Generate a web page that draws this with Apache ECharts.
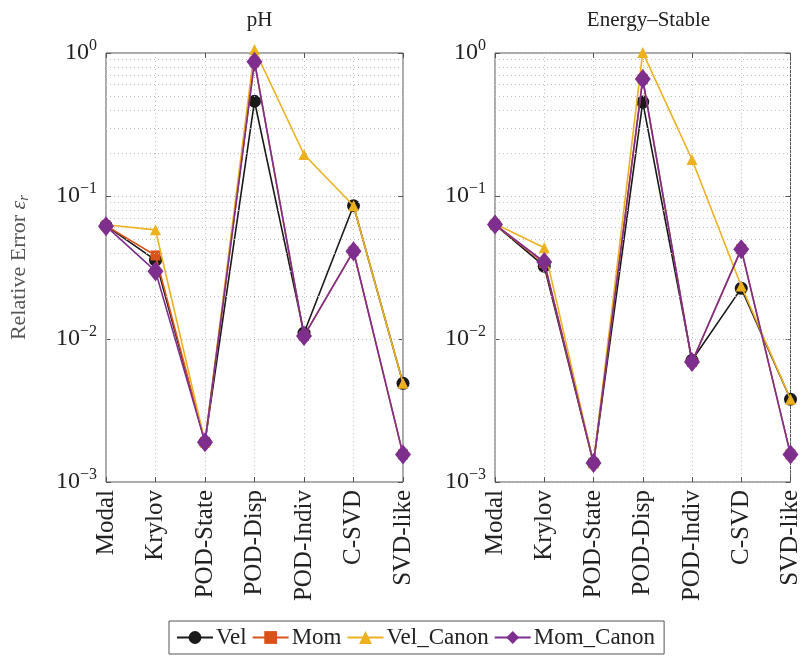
<!DOCTYPE html>
<html>
<head>
<meta charset="utf-8">
<script src="https://cdn.jsdelivr.net/npm/echarts@6/dist/echarts.min.js"></script>
<style>
html,body{margin:0;padding:0;background:#fff;}
#chart{width:803px;height:664px;}
</style>
</head>
<body>
<div id="chart"></div>
<script>
// ---- data ----
const categories = ['Modal', 'Krylov', 'POD-State', 'POD-Disp', 'POD-Indiv', 'C-SVD', 'SVD-like'];
const seriesNames = ['Vel', 'Mom', 'Vel_Canon', 'Mom_Canon'];
const panelTitles = ['pH', 'Energy\u2013Stable'];

// pH panel
const phVel       = [0.062, 0.0356, 0.0019, 0.46, 0.011, 0.0855, 0.0049];
const phMom       = [0.062, 0.0384, 0.0019, 0.87, 0.0105, 0.0411, 0.00156];
const phVelCanon  = [0.063, 0.058, 0.0019, 1.06, 0.195, 0.0855, 0.0049];
const phMomCanon  = [0.0615, 0.0298, 0.0019, 0.87, 0.0105, 0.0411, 0.00156];

// Energy-Stable panel
const esVel       = [0.063, 0.0323, 0.00136, 0.454, 0.0071, 0.0226, 0.00379];
const esMom       = [0.063, 0.034, 0.00136, 0.658, 0.0069, 0.0425, 0.00156];
const esVelCanon  = [0.064, 0.0434, 0.00136, 1.01, 0.18, 0.0235, 0.00379];
const esMomCanon  = [0.0633, 0.0346, 0.00136, 0.658, 0.0069, 0.0425, 0.00156];

// axis ticks
const yMin = 0.001, yMax = 1;
const minorGridValues = [];
[0.001, 0.01, 0.1].forEach(d => { for (let k = 2; k <= 9; k++) minorGridValues.push(+(d * k).toPrecision(3)); });

// ---- styles ----
const FONT = '"Liberation Serif", "DejaVu Serif", serif';
const colors = ['#1a1a1a', '#d95319', '#edb120', '#7e2f8e'];
const symbols = ['circle', 'rect', 'triangle', 'diamond'];
const symbolSizes = [13, 10, 11, [16, 20]];
const panelData = [
  [phVel, phMom, phVelCanon, phMomCanon],
  [esVel, esMom, esVelCanon, esMomCanon]
];
const grids = [
  {left: 106, top: 53, width: 297, height: 429},
  {left: 495, top: 53, width: 297, height: 429}
];

const gridLineStyle = {type: [1, 3], color: '#bdbdbd', width: 1};

const xAxes = [], yAxes = [], series = [], titles = [];
grids.forEach((g, gi) => {
  titles.push({
    text: panelTitles[gi],
    left: g.left + g.width / 2, top: 5, textAlign: 'center',
    textStyle: {fontFamily: FONT, fontSize: 21, fontWeight: 'normal', color: '#222'}
  });
  xAxes.push({
    type: 'category', gridIndex: gi, data: categories, boundaryGap: false, position: 'bottom',
    axisLine: {show: false},
    axisTick: {show: true, inside: true, length: 5, lineStyle: {color: '#555'}, alignWithLabel: true},
    axisLabel: {rotate: 90, margin: 8, fontFamily: FONT, fontSize: 25, color: '#222', interval: 0},
    splitLine: {show: true, interval: 0, lineStyle: gridLineStyle}
  });
  xAxes.push({
    type: 'category', gridIndex: gi, data: categories, boundaryGap: false, position: 'top',
    axisLine: {show: false},
    axisTick: {show: true, inside: true, length: 5, lineStyle: {color: '#555'}},
    axisLabel: {show: false}, splitLine: {show: false}
  });
  yAxes.push({
    type: 'log', logBase: 10, gridIndex: gi, min: yMin, max: yMax, position: 'left',
    axisLine: {show: false},
    axisTick: {show: true, inside: true, length: 5, lineStyle: {color: '#555'}},
    splitLine: {show: true, lineStyle: gridLineStyle},
    axisLabel: {
      margin: 9,
      formatter: v => {
        const e = Math.round(Math.log10(v));
        return '{b|10}{s|' + (e < 0 ? '\u2212' + (-e) : e) + '}';
      },
      rich: {
        b: {fontFamily: FONT, fontSize: 24, color: '#222', lineHeight: 30, verticalAlign: 'middle'},
        s: {fontFamily: FONT, fontSize: 16, color: '#222', lineHeight: 16, verticalAlign: 'top'}
      }
    },
    name: gi === 0 ? '{a|Relative Error }{e|\u03b5}{r|r}' : '',
    nameLocation: 'middle', nameGap: 74, nameRotate: 90,
    nameTextStyle: {
      rich: {
        a: {fontFamily: FONT, fontSize: 22, color: '#555', lineHeight: 26, verticalAlign: 'middle'},
        e: {fontFamily: FONT, fontSize: 22, fontStyle: 'italic', color: '#555', lineHeight: 26, verticalAlign: 'middle'},
        r: {fontFamily: FONT, fontSize: 15, fontStyle: 'italic', color: '#555', lineHeight: 14, verticalAlign: 'bottom'}
      }
    }
  });
  yAxes.push({
    type: 'log', logBase: 10, gridIndex: gi, min: yMin, max: yMax, position: 'right',
    axisLine: {show: false},
    axisTick: {show: true, inside: true, length: 5, lineStyle: {color: '#555'}},
    splitLine: {show: false}, axisLabel: {show: false}
  });
  // minor grid lines (dummy series holding markLines)
  series.push({
    type: 'line', name: 'minor' + gi, xAxisIndex: gi * 2, yAxisIndex: gi * 2, data: [],
    z: 1, silent: true,
    markLine: {
      silent: true, symbol: 'none', label: {show: false}, animation: false,
      lineStyle: gridLineStyle,
      data: minorGridValues.map(v => ({yAxis: v}))
    }
  });
  seriesNames.forEach((n, si) => {
    series.push({
      type: 'line', name: n, xAxisIndex: gi * 2, yAxisIndex: gi * 2,
      data: panelData[gi][si],
      clip: false, z: 3 + si,
      symbol: symbols[si], symbolSize: symbolSizes[si], showAllSymbol: true,
      itemStyle: {color: colors[si], borderWidth: 0},
      lineStyle: {color: colors[si], width: 1.6},
      emphasis: {disabled: true}
    });
  });
});

const chart = echarts.init(document.getElementById('chart'), null, {renderer: 'canvas'});
chart.setOption({
  animation: false,
  backgroundColor: '#fff',
  title: titles,
  grid: grids.map(g => Object.assign({show: true, borderColor: '#555', borderWidth: 1, backgroundColor: 'transparent'}, g)),
  xAxis: xAxes,
  yAxis: yAxes,
  legend: {
    data: seriesNames,
    left: 169, top: 621,
    orient: 'horizontal',
    borderColor: '#555', borderWidth: 1, borderRadius: 0,
    padding: [5, 9, 5, 7],
    itemWidth: 36, itemHeight: 16, itemGap: 5,
    textStyle: {fontFamily: FONT, fontSize: 23, color: '#222', padding: [0, 0, 0, -2]}
  },
  series: series
});
</script>
</body>
</html>
